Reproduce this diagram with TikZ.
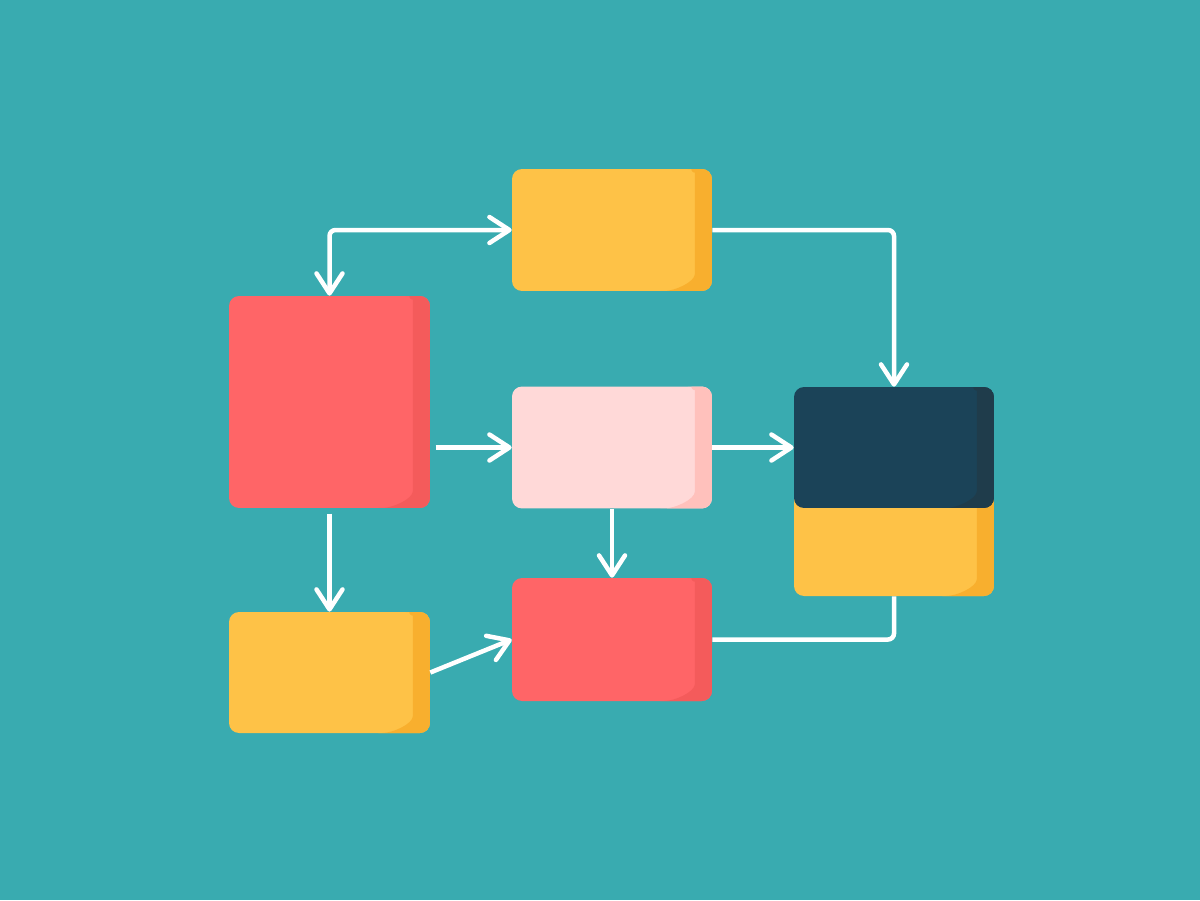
\documentclass[tikz,border=0pt]{standalone}
\usepackage{tikz}
\usetikzlibrary{arrows.meta}

\definecolor{teal0}{HTML}{39ABB0}
\definecolor{sun}{HTML}{FEC247}
\definecolor{sundark}{HTML}{F8AF2E}
\definecolor{coral}{HTML}{FF6567}
\definecolor{coraldark}{HTML}{F45B5B}
\definecolor{blush}{HTML}{FFD9D8}
\definecolor{blushdark}{HTML}{FFC1BC}
\definecolor{navy}{HTML}{1B4358}
\definecolor{navydark}{HTML}{1F3C4B}

\tikzset{
  card/.style 2 args={rectangle, rounded corners=0.2cm, inner sep=0pt,
    minimum width=4cm, fill=#1,
    path picture={
      \coordinate (pne) at (path picture bounding box.north east);
      \coordinate (pse) at (path picture bounding box.south east);
      \fill[#2] ([xshift=-0.6cm]pne) to[out=0,in=90] ([xshift=-0.34cm,yshift=-0.26cm]pne)
        -- ([xshift=-0.34cm,yshift=0.55cm]pse) to[out=-90,in=0] ([xshift=-1.15cm]pse)
        -- (pse) -- (pne) -- cycle;
    }},
  link/.style={draw=white, line width=0.09cm, rounded corners=0.12cm}
}

\begin{document}
\begin{tikzpicture}[x=0.02cm, y=-0.02cm,
    >={Straight Barb[length=0.4cm,width=0.52cm,round]}]
  % background
  \fill[teal0] (0,0) rectangle (1200,900);

  % Cards
  \node[card={sun}{sundark}, minimum height=2.44cm] (topbox) at (612,230) {};
  \node[card={coral}{coraldark}, minimum width=4.02cm, minimum height=4.24cm] (leftbox) at (329.5,402) {};
  \node[card={blush}{blushdark}, minimum height=2.44cm] (midbox) at (612,447.5) {};
  \node[card={sun}{sundark}, minimum height=2.12cm] (basebox) at (894,543) {};
  \node[card={navy}{navydark}, minimum height=2.42cm] (navbox) at (894,447.5) {};
  \node[card={sun}{sundark}, minimum width=4.02cm, minimum height=2.42cm] (lowbox) at (329.5,672.5) {};
  \node[card={coral}{coraldark}, minimum height=2.46cm] (redbox) at (612,639.5) {};

  % Links
  \draw[link, <->] (leftbox.north) |- (topbox.west);
  \draw[link, ->] (topbox.east) -| (navbox.north);
  \draw[link, ->, shorten <=3] (leftbox.east |- midbox.west) -- (midbox.west);
  \draw[link, ->] (midbox.east) -- (navbox.west);
  \draw[link, ->, shorten <=3] (leftbox.south) -- (lowbox.north);
  \draw[link, ->] (midbox.south) -- (redbox.north);
  \draw[link, ->] (lowbox.east) -- (redbox.west);
  \draw[link] (redbox.east) -| (basebox.south);
\end{tikzpicture}
\end{document}
